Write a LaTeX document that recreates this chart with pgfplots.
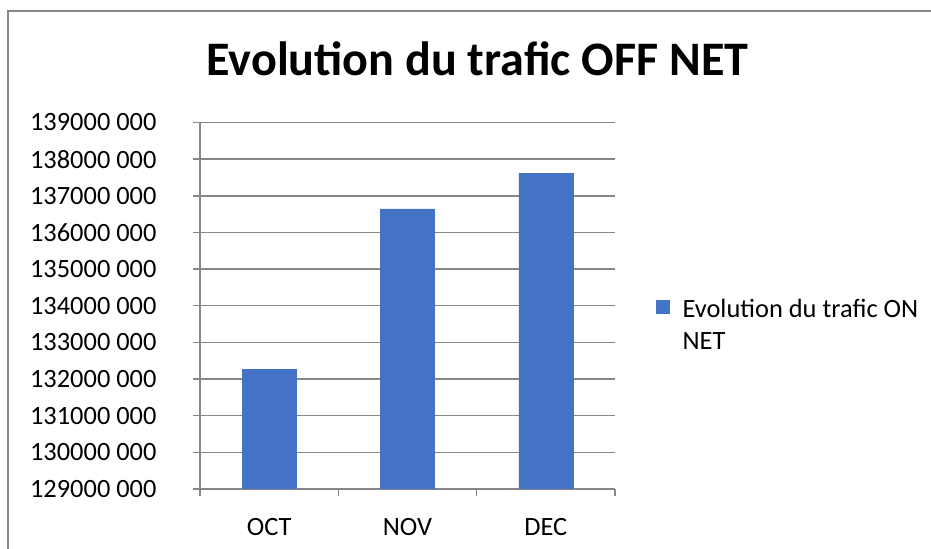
\documentclass[border=0pt]{standalone}
\usepackage{fontspec}
\setmainfont{Carlito}
\usepackage{pgfplots}
\pgfplotsset{compat=1.18}
\definecolor{barc}{HTML}{4472C4}
\definecolor{gridc}{HTML}{878787}
\begin{document}
\begin{tikzpicture}[x=1bp,y=1bp]
\useasboundingbox (0,0) rectangle (931,549);
\draw[gridc, line width=1.5bp] (8,-2) -- (8,538) -- (933,538);
\node[font=\fontsize{48.3}{52}\selectfont\bfseries, anchor=base, inner sep=0pt] at (477.5,473) {Evolution du trafic OFF NET};
\begin{axis}[
  at={(200bp,60bp)}, anchor=south west,
  scale only axis, width=415bp, height=366.5bp,
  xmin=-0.5, xmax=2.5,
  ymin=129000000, ymax=139000000,
  scaled y ticks=false,
  ybar, bar width=54bp,
  axis lines*=left,
  axis line style={gridc, line width=1.5bp},
  ymajorgrids, grid style={gridc, line width=1.5bp},
  tick align=outside,
  major tick length=7bp,
  tick style={gridc, line width=1.5bp},
  xtick={-0.5,0.5,1.5,2.5}, xticklabels={},
  extra x ticks={0,1,2},
  extra x tick labels={OCT,NOV,DEC},
  extra x tick style={major tick length=0pt, tick style={draw=none}},
  ytick={129000000,130000000,131000000,132000000,133000000,134000000,135000000,136000000,137000000,138000000,139000000},
  yticklabels={129000 000,130000 000,131000 000,132000 000,133000 000,134000 000,135000 000,136000 000,137000 000,138000 000,139000 000},
  yticklabel style={font=\fontsize{26.5}{30}\selectfont, xshift=-33bp},
  xticklabel style={font=\fontsize{26.5}{30}\selectfont, yshift=-26bp},
  legend style={draw=none, fill=none, inner sep=0pt, at={(1.0988,0.538)}, anchor=north west,
    font=\fontsize{26.5}{33}\selectfont, cells={anchor=base west}, column sep=0pt},
  legend image code/.code={\fill[#1] (0bp,4bp) rectangle (13bp,17bp); \path (24bp,4bp);},
]
\addplot[fill=barc, draw=barc] coordinates {(0,132270000) (1,136640000) (2,137610000)};
\addlegendentry{\begin{tabular}[t]{@{}l@{}}Evolution du trafic ON\\NET\end{tabular}}
\end{axis}
\end{tikzpicture}
\end{document}
